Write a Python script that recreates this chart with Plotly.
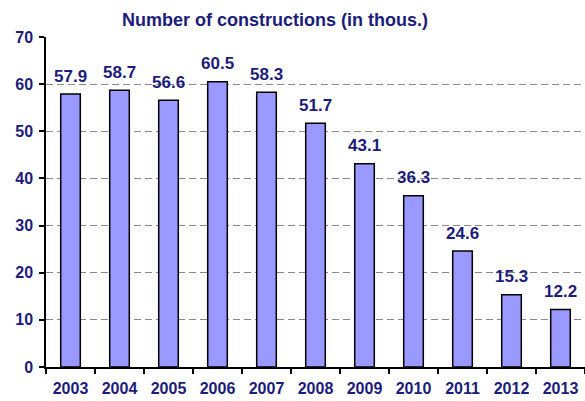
import plotly.graph_objects as go

years = ["2003", "2004", "2005", "2006", "2007", "2008", "2009", "2010", "2011", "2012", "2013"]
values = [57.9, 58.7, 56.6, 60.5, 58.3, 51.7, 43.1, 36.3, 24.6, 15.3, 12.2]
value_labels = ["57.9", "58.7", "56.6", "60.5", "58.3", "51.7", "43.1", "36.3", "24.6", "15.3", "12.2"]
y_ticks = [0, 10, 20, 30, 40, 50, 60, 70]

NAVY = "#1c1c7c"
FONT = "Liberation Sans, Arial, sans-serif"

fig = go.Figure()
fig.add_trace(go.Bar(
    x=years, y=values,
    marker=dict(color="#9999ff", line=dict(color="black", width=1.5)),
    width=0.4,
    hoverinfo="skip",
))

for i, (v, lab) in enumerate(zip(values, value_labels)):
    fig.add_annotation(x=i, y=v, xref="x", yref="y", text="<b>%s</b>" % lab, showarrow=False,
                       yanchor="middle", yshift=18,
                       font=dict(family=FONT, size=17, color=NAVY))

fig.update_layout(
    width=585, height=401,
    margin=dict(l=46, r=0, t=37, b=34, autoexpand=False),
    paper_bgcolor="white", plot_bgcolor="white",
    showlegend=False,
    title=dict(text="<b>Number of constructions (in thous.)</b>",
               x=275/585, xref="container", xanchor="center",
               y=1 - 20/401, yref="container", yanchor="middle",
               font=dict(family=FONT, size=18, color=NAVY)),
)
fig.update_xaxes(
    type="category", range=[-0.5, 10.5], automargin=False,
    showline=True, linecolor="black", linewidth=1.5,
    ticks="outside", tickson="boundaries", ticklen=5, tickcolor="black", tickwidth=1.5,
    showgrid=False, ticklabelstandoff=6,
    tickfont=dict(family=FONT, size=16, color=NAVY),
    tickprefix="<b>", ticksuffix="</b>",
)
fig.update_yaxes(
    range=[0, 70], tickvals=y_ticks, ticktext=["<b>%d</b>" % t for t in y_ticks],
    automargin=False,
    showline=True, linecolor="black", linewidth=1.5,
    ticks="outside", ticklen=5, tickcolor="black", tickwidth=1.5,
    showgrid=True, gridcolor="#8a8a8a", gridwidth=1.3, griddash="7px,4px",
    zeroline=False, ticklabelstandoff=3,
    tickfont=dict(family=FONT, size=16, color=NAVY),
)

fig.write_html("out.html", config={"displayModeBar": False},
               post_script="document.body.style.margin='0px';")
